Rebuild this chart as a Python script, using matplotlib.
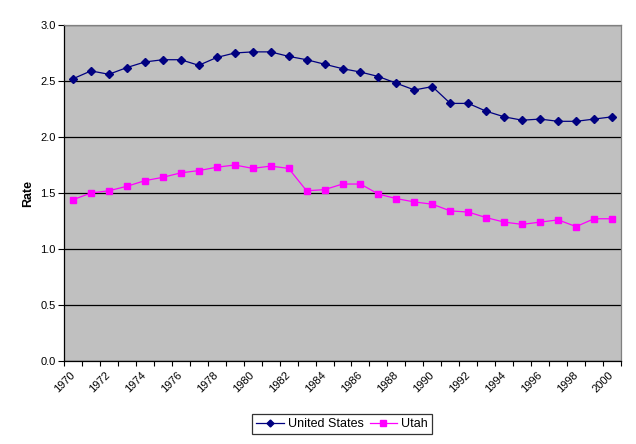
import matplotlib
matplotlib.use("Agg")
import matplotlib.pyplot as plt
from matplotlib.ticker import FixedLocator, FormatStrFormatter
from matplotlib.transforms import ScaledTranslation

plt.rcParams["font.family"] = ["Liberation Sans", "DejaVu Sans"]

years = list(range(1970, 2001))
us_rate = [2.52, 2.59, 2.56, 2.62, 2.67, 2.69, 2.69, 2.64, 2.71, 2.75,
           2.76, 2.76, 2.72, 2.69, 2.65, 2.61, 2.58, 2.54, 2.48, 2.42,
           2.45, 2.30, 2.30, 2.23, 2.18, 2.15, 2.16, 2.14, 2.14, 2.16,
           2.18]
utah_rate = [1.44, 1.50, 1.52, 1.56, 1.61, 1.64, 1.68, 1.70, 1.73, 1.75,
             1.72, 1.74, 1.72, 1.52, 1.53, 1.58, 1.58, 1.49, 1.45, 1.42,
             1.40, 1.34, 1.33, 1.28, 1.24, 1.22, 1.24, 1.26, 1.20, 1.27,
             1.27]
y_ticks = [0.0, 0.5, 1.0, 1.5, 2.0, 2.5, 3.0]

fig = plt.figure(figsize=(6.36, 4.44), dpi=100)
ax = fig.add_axes([64 / 636, 1 - 361 / 444, (621 - 64) / 636, (361 - 25) / 444])
ax.set_facecolor("#c0c0c0")

xs = list(range(len(years)))
ax.plot(xs, us_rate, color="#000080", lw=0.9, marker="D", ms=4.4,
        label="United States", zorder=3)
ax.plot(xs, utah_rate, color="#ff00ff", lw=0.9, marker="s", ms=4.8,
        label="Utah", zorder=3)

ax.set_xlim(-0.5, len(years) - 0.5)
ax.set_ylim(0, 3.0)
ax.set_yticks(y_ticks)
ax.yaxis.set_major_formatter(FormatStrFormatter("%.1f"))
ax.grid(axis="y", color="black", lw=0.9)
ax.set_axisbelow(True)

# category boundaries get tick marks, every second year gets a label
ax.xaxis.set_minor_locator(FixedLocator([i - 0.5 for i in range(len(years) + 1)]))
ax.set_xticks(xs[::2])
ax.set_xticklabels([str(y) for y in years[::2]], rotation=45, ha="right",
                   va="center", rotation_mode="anchor", fontsize=8)
shift = ScaledTranslation(-4 / 100, 0, fig.dpi_scale_trans)
for lbl in ax.get_xticklabels():
    lbl.set_transform(lbl.get_transform() + shift)
ax.tick_params(axis="x", which="major", length=0, pad=9)
ax.tick_params(axis="x", which="minor", length=3.5, width=0.8, direction="out")
ax.tick_params(axis="y", length=4, width=0.8, direction="out", labelsize=8, pad=2)

for side in ("top", "right"):
    ax.spines[side].set_color("#808080")
    ax.spines[side].set_linewidth(0.9)
for side in ("left", "bottom"):
    ax.spines[side].set_color("black")
    ax.spines[side].set_linewidth(0.9)

fig.text(28 / 636, 1 - 193 / 444, "Rate", rotation=90, fontsize=9,
         fontweight="bold", ha="center", va="center")

leg = fig.legend(loc="center", bbox_to_anchor=(342 / 636, 1 - 424 / 444),
                 ncol=2, fontsize=9, frameon=True, fancybox=False,
                 edgecolor="black", handlelength=2.2, columnspacing=0.5,
                 handletextpad=0.3, borderpad=0.35, markerscale=0.8)
leg.get_frame().set_linewidth(0.9)

fig.savefig("out.png", dpi=100)
